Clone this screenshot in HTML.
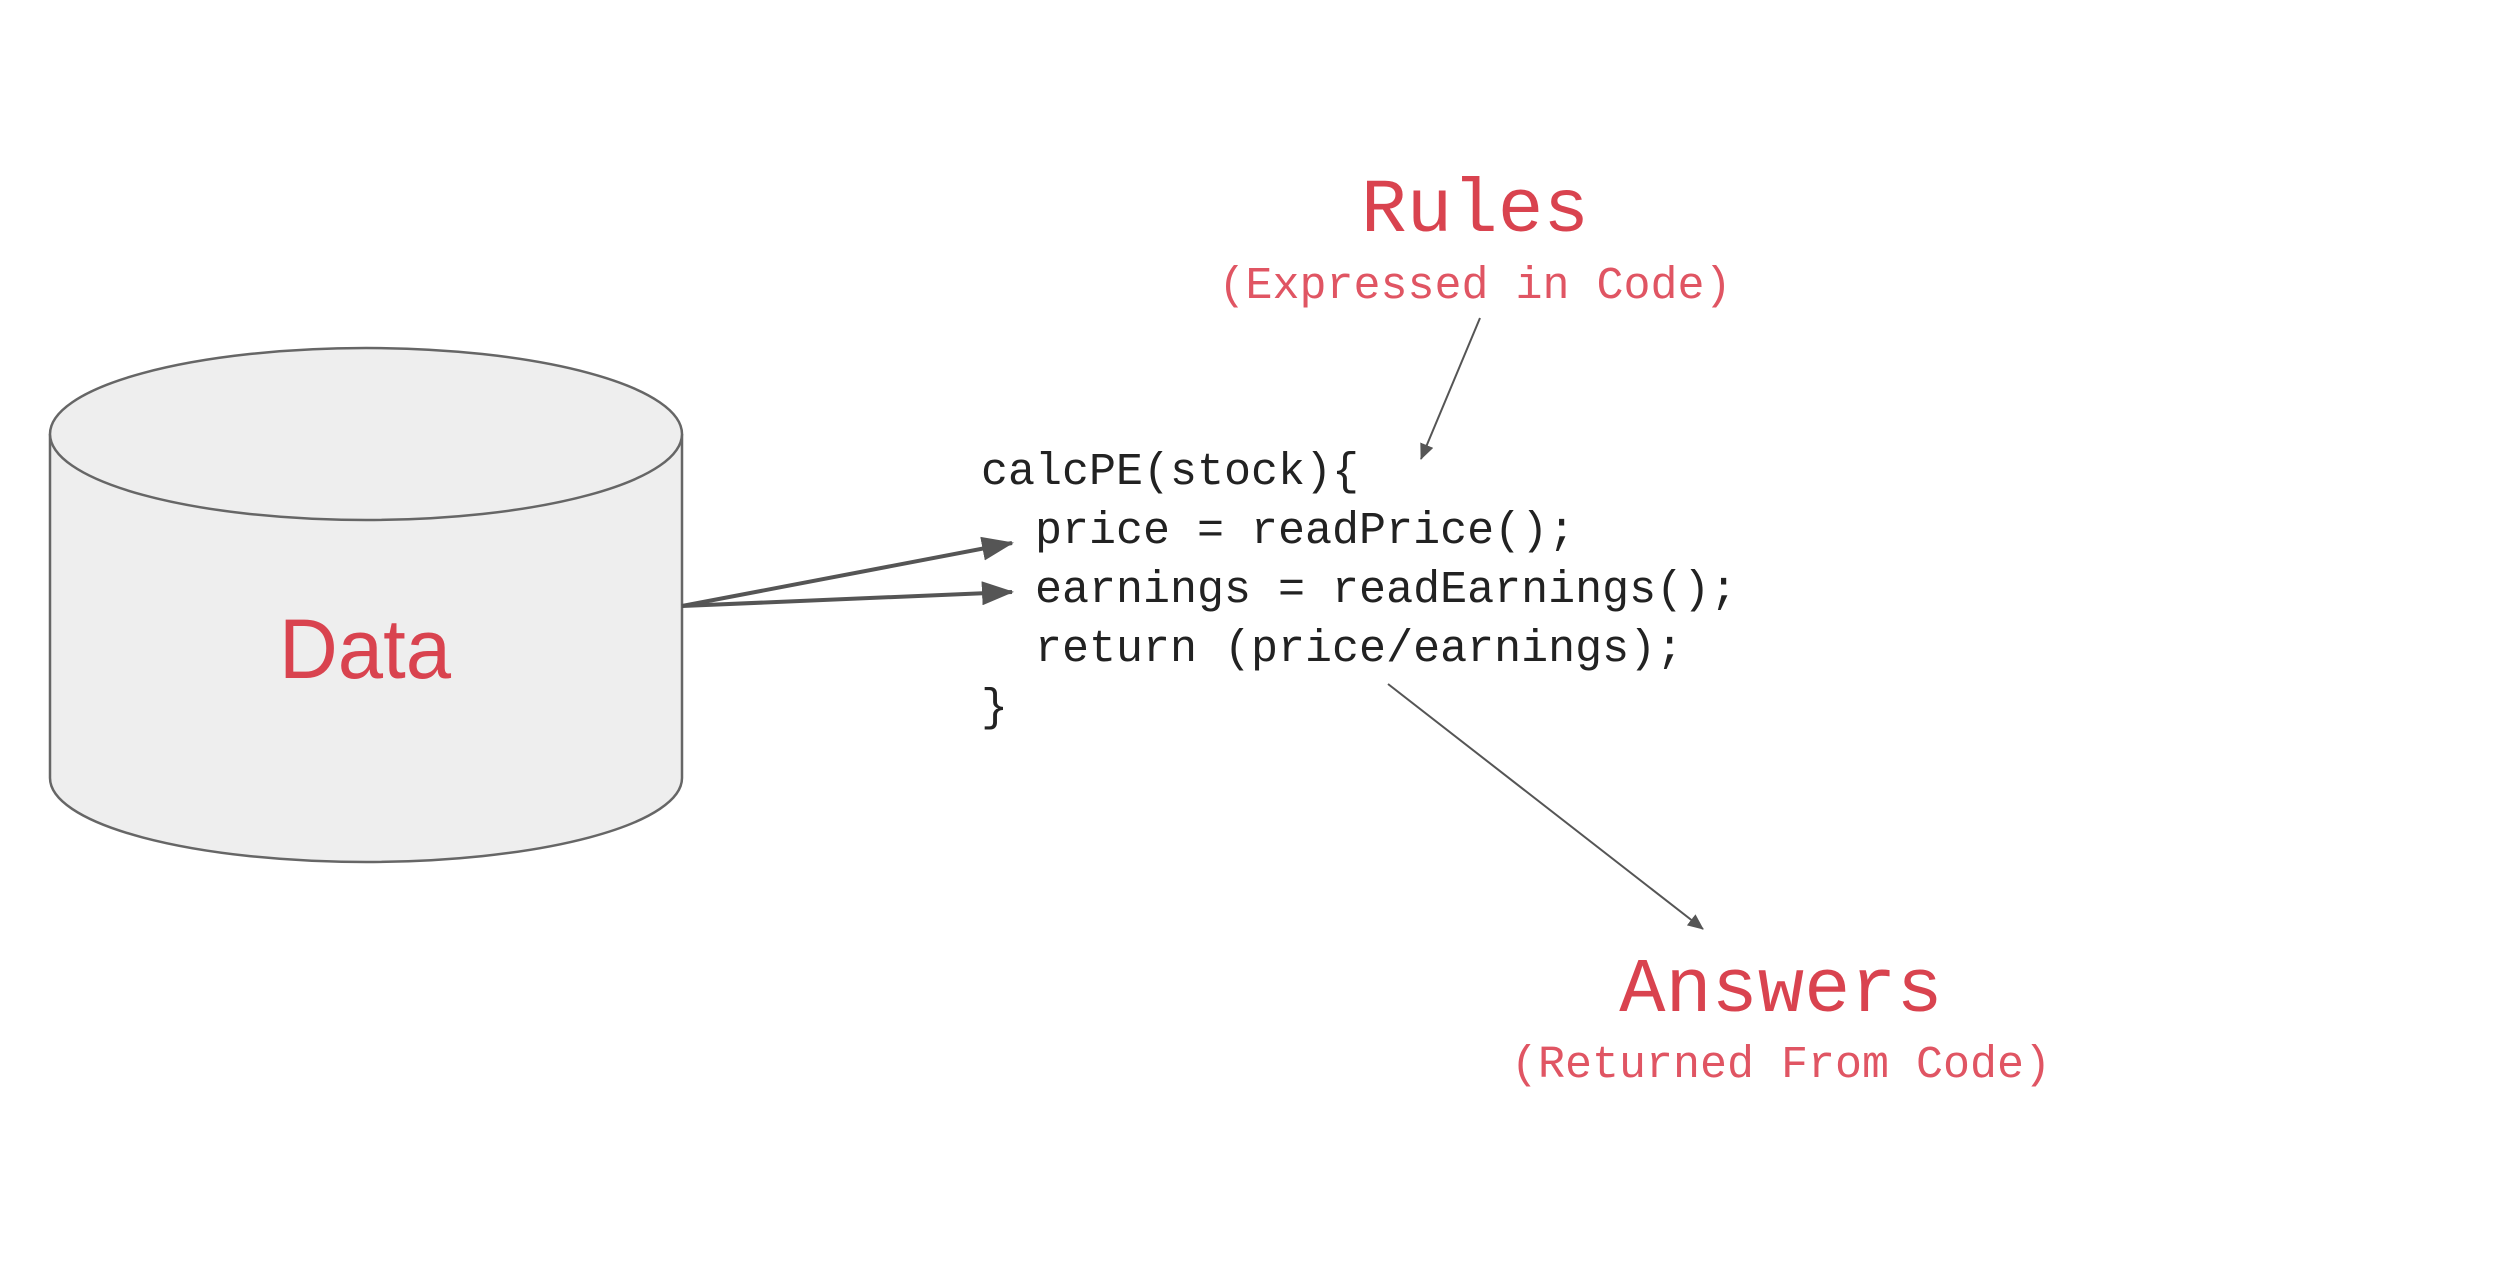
<!DOCTYPE html>
<html><head><meta charset="utf-8"><style>
html,body{margin:0;padding:0;background:#fff;}
svg{display:block;}
.m{font-family:"Liberation Mono","DejaVu Sans Mono",monospace;}
</style></head><body>
<svg width="2494" height="1276" viewBox="0 0 2494 1276" xmlns="http://www.w3.org/2000/svg">
<defs>
<marker id="big" markerWidth="32" markerHeight="24" refX="30" refY="12" orient="auto" markerUnits="userSpaceOnUse" viewBox="0 0 32 24">
<path d="M0,0 L32,12 L0,24 z" fill="#555"/></marker>
<marker id="sm" markerWidth="16" markerHeight="14" refX="15" refY="7" orient="auto" markerUnits="userSpaceOnUse" viewBox="0 0 16 14">
<path d="M0,0 L16,7 L0,14 z" fill="#555"/></marker>
</defs>
<path d="M50,434 L50,778 A316,84 0 0 0 682,778 L682,434" fill="#eeeeee" stroke="#666" stroke-width="2.5"/>
<ellipse cx="366" cy="434" rx="316" ry="86" fill="#eeeeee" stroke="#666" stroke-width="2.5"/>
<text x="365" y="678" text-anchor="middle" font-family="Liberation Sans, sans-serif" font-size="84" fill="#d9434f" textLength="172" lengthAdjust="spacingAndGlyphs">Data</text>
<line x1="682" y1="606" x2="1012" y2="543" stroke="#555" stroke-width="4" marker-end="url(#big)"/>
<line x1="682" y1="606" x2="1012" y2="592" stroke="#555" stroke-width="4" marker-end="url(#big)"/>
<g class="m" font-size="45" fill="#222">
<text x="981" y="484" xml:space="preserve">calcPE(stock){</text>
<text x="981" y="543" xml:space="preserve">  price = readPrice();</text>
<text x="981" y="602" xml:space="preserve">  earnings = readEarnings();</text>
<text x="981" y="661" xml:space="preserve">  return (price/earnings);</text>
<text x="981" y="720" xml:space="preserve">}</text>
</g>
<text x="1475" y="231" text-anchor="middle" class="m" font-size="76" fill="#d9434f">Rules</text>
<text x="1475" y="298" text-anchor="middle" class="m" font-size="45" fill="#e05563">(Expressed in Code)</text>
<line x1="1480" y1="318" x2="1421" y2="459" stroke="#555" stroke-width="2" marker-end="url(#sm)"/>
<line x1="1388" y1="684" x2="1703" y2="929" stroke="#555" stroke-width="2" marker-end="url(#sm)"/>
<text x="1781" y="1011" text-anchor="middle" class="m" font-size="77" fill="#d9434f">Answers</text>
<text x="1781" y="1077" text-anchor="middle" class="m" font-size="45" fill="#e05563">(Returned From Code)</text>
</svg>
</body></html>
